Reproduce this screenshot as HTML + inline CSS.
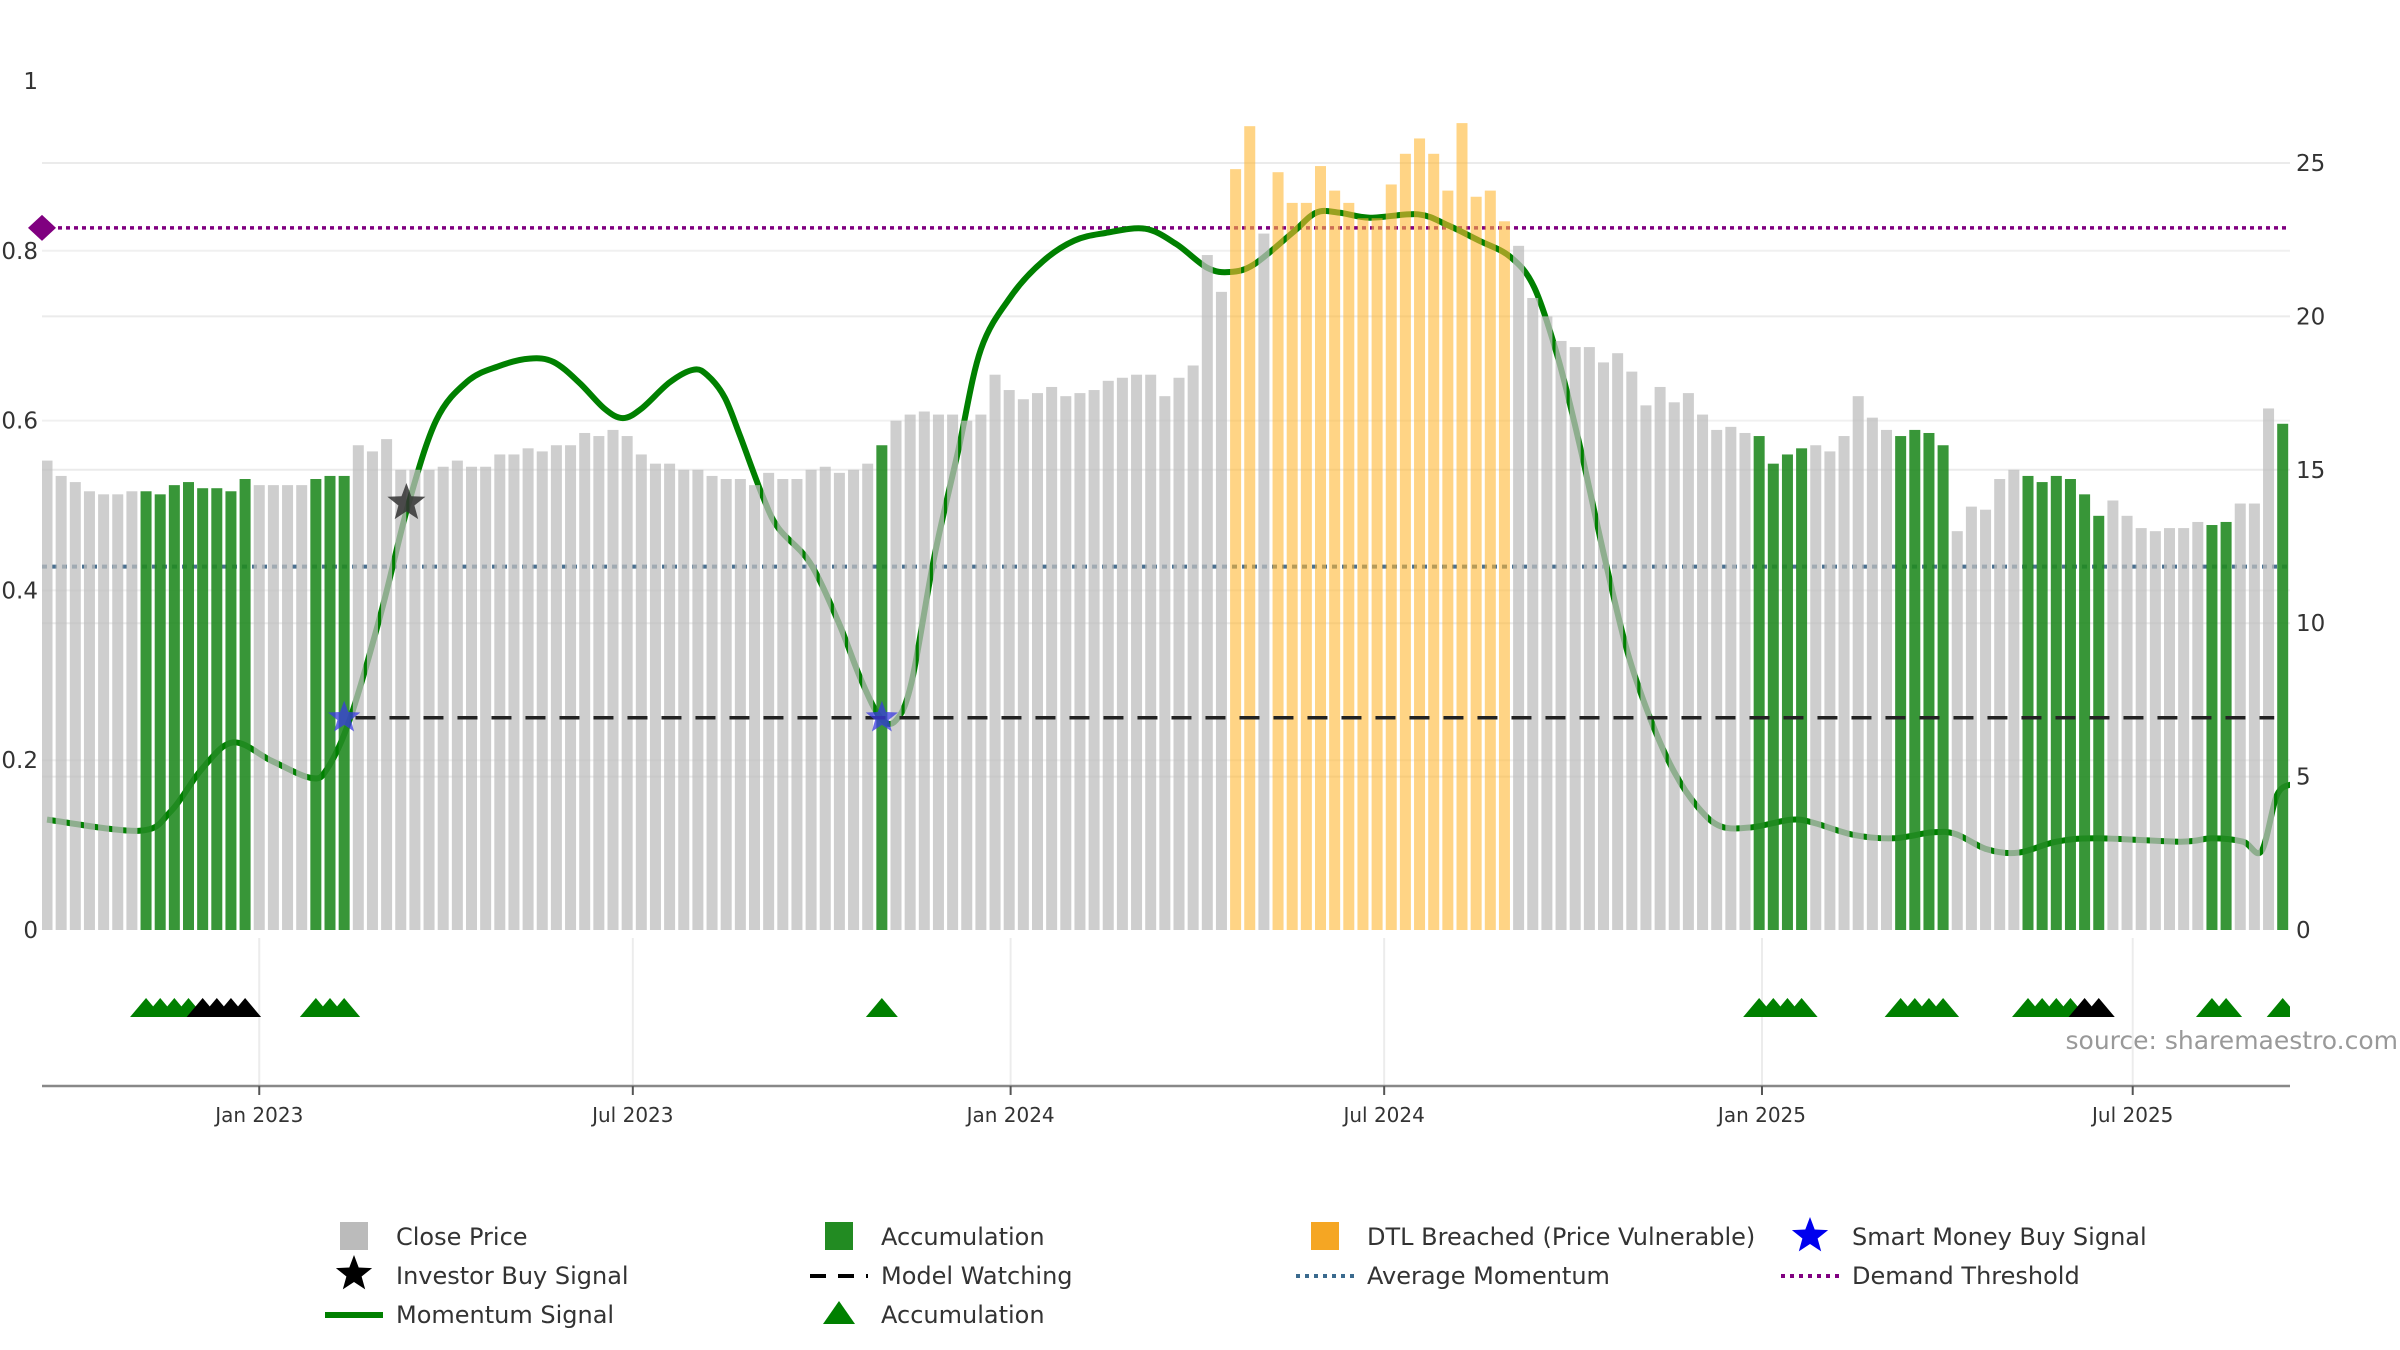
<!DOCTYPE html>
<html><head><meta charset="utf-8"><style>
html,body{margin:0;padding:0;background:#fff;}
svg{display:block;font-family:"DejaVu Sans","Liberation Sans",sans-serif;}
</style></head><body>
<svg id="chart" width="2400" height="1350" viewBox="0 0 2400 1350" xmlns="http://www.w3.org/2000/svg">
<defs><clipPath id="pc"><rect x="42" y="60" width="2248" height="1030"/></clipPath></defs>
<g id="grid"></g>
<g id="lines" clip-path="url(#pc)"></g>
<g id="mom" clip-path="url(#pc)"></g>
<g id="bars" clip-path="url(#pc)"></g>
<g id="marks" clip-path="url(#pc)"></g>
<g id="axes"></g>
<text x="2398" y="1049" text-anchor="end" font-size="25" fill="#999">source: sharemaestro.com</text>
<g id="legend" font-size="24" fill="#333">
 <g><rect x="340" y="1222" width="28" height="28" fill="#bbb"/><text x="396" y="1245">Close Price</text></g>
 <g><rect x="825" y="1222" width="28" height="28" fill="#228b22"/><text x="881" y="1245">Accumulation</text></g>
 <g><rect x="1311" y="1222" width="28" height="28" fill="#f5a623"/><text x="1367" y="1245">DTL Breached (Price Vulnerable)</text></g>
 <g><polygon id="ls1" fill="#0000ee"/><text x="1852" y="1245">Smart Money Buy Signal</text></g>
 <g><polygon id="ls2" fill="#000"/><text x="396" y="1284">Investor Buy Signal</text></g>
 <g><line x1="810" y1="1276" x2="868" y2="1276" stroke="#000" stroke-width="4" stroke-dasharray="16 12"/><text x="881" y="1284">Model Watching</text></g>
 <g><line x1="1296" y1="1276" x2="1354" y2="1276" stroke="#3a6a8e" stroke-width="4" stroke-dasharray="4 5"/><text x="1367" y="1284">Average Momentum</text></g>
 <g><line x1="1781" y1="1276" x2="1839" y2="1276" stroke="#800080" stroke-width="4" stroke-dasharray="4 5"/><text x="1852" y="1284">Demand Threshold</text></g>
 <g><line x1="325" y1="1315" x2="383" y2="1315" stroke="#008000" stroke-width="6"/><text x="396" y="1323">Momentum Signal</text></g>
 <g><polygon points="839,1301 855,1324 823,1324" fill="#008000"/><text x="881" y="1323">Accumulation</text></g>
</g>
</svg>
<script>
const closePrice=[15.3,14.8,14.6,14.3,14.2,14.2,14.3,14.3,14.2,14.5,
14.6,14.4,14.4,14.3,14.7,14.5,14.5,14.5,14.5,14.7,
14.8,14.8,15.8,15.6,16.0,15.0,15.0,15.0,15.1,15.3,
15.1,15.1,15.5,15.5,15.7,15.6,15.8,15.8,16.2,16.1,
16.3,16.1,15.5,15.2,15.2,15.0,15.0,14.8,14.7,14.7,
14.5,14.9,14.7,14.7,15.0,15.1,14.9,15.0,15.2,15.8,
16.6,16.8,16.9,16.8,16.8,16.6,16.8,18.1,17.6,17.3,
17.5,17.7,17.4,17.5,17.6,17.9,18.0,18.1,18.1,17.4,
18.0,18.4,22.0,20.8,
24.8,26.2,22.7,24.7,23.7,23.7,24.9,24.1,23.7,23.2,23.2,24.3,25.3,25.8,25.3,24.1,26.3,23.9,24.1,23.1,
22.3,20.6,20.0,19.2,19.0,19.0,18.5,18.8,18.2,17.1,17.7,17.2,17.5,16.8,16.3,16.4,16.2,
16.1,15.2,15.5,15.7,
15.8,15.6,16.1,17.4,16.7,16.3,
16.1,16.3,16.2,15.8,
13.0,13.8,13.7,14.7,15.0,
14.8,14.6,14.8,14.7,14.2,13.5,
14.0,13.5,13.1,13.0,13.1,13.1,13.3,
13.2,13.3,
13.9,13.9,17.0,
16.5];
const accumIdx=[7,8,9,10,11,12,13,14,19,20,21,59,121,122,123,124,131,132,133,134,140,141,142,143,144,145,153,154,158];
const dtlIdx=[84,85,87,88,89,90,91,92,93,94,95,96,97,98,99,100,101,102,103];
const triGreen=[7,8,9,10,19,20,21,59,121,122,123,124,131,132,133,134,140,141,142,143,153,154,158];
const triBlack=[11,12,13,14,144,145];
const momIdx=[0,6.55,8.76,10.96,13.16,15.9,18.67,19.8,21.4,23.6,25.5,27.5,29.7,31.9,34.1,35.8,37.6,39.4,40.7,42.0,44.0,45.7,46.7,47.9,49.0,50.6,51.7,53.9,55.9,57.5,58.9,60.0,61.1,62.7,64.4,66.0,68.2,70.4,72.6,74.8,77.6,79.8,82.0,83.6,85.3,88.0,89.7,91.3,93.5,96.9,99.0,101.2,103.4,105.1,106.8,108.4,110.1,111.7,113.4,115.0,116.7,118.3,120.5,123.3,124.9,127.7,130.5,133.2,134.9,137.1,139.3,142.0,144.8,150.8,153.0,155.2,156.5,157.6,158.7];
const momVal=[0.130,0.117,0.140,0.190,0.221,0.199,0.179,0.190,0.248,0.373,0.499,0.600,0.646,0.664,0.673,0.669,0.645,0.614,0.603,0.614,0.645,0.660,0.653,0.627,0.581,0.510,0.473,0.433,0.364,0.296,0.250,0.247,0.292,0.439,0.565,0.684,0.748,0.788,0.812,0.821,0.826,0.808,0.780,0.775,0.784,0.821,0.845,0.845,0.839,0.843,0.830,0.812,0.793,0.757,0.673,0.565,0.437,0.327,0.245,0.186,0.144,0.122,0.121,0.130,0.126,0.112,0.108,0.115,0.113,0.095,0.091,0.104,0.108,0.104,0.108,0.104,0.093,0.159,0.172];
const smartIdx=[21,59];
const smartVal=[0.25,0.25];
const investorIdx=[25.4];
const investorVal=[0.503];
const avgMomentum=0.428;
const demandThreshold=0.827;
const modelWatching=0.25;
const modelStart=21.8, modelEnd=157.4;
const leftTicks=[0,0.2,0.4,0.6,0.8,1];
const leftLabels=["0","0.2","0.4","0.6","0.8","1"];
const rightTicks=[0,5,10,15,20,25];
const dateIdx=[15.0,41.4,68.1,94.5,121.2,147.4];
const dateLabels=["Jan 2023","Jul 2023","Jan 2024","Jul 2024","Jan 2025","Jul 2025"];

const NS="http://www.w3.org/2000/svg";
const xB=i=>47+i*14.15;
const yR=v=>930-v*30.68;
const yL=v=>930-v*849;
function mk(tag,attrs,parent){const e=document.createElementNS(NS,tag);for(const k in attrs)e.setAttribute(k,attrs[k]);parent.appendChild(e);return e;}
function starPts(cx,cy,R){const r=R*0.42;let p=[];for(let k=0;k<10;k++){const a=-Math.PI/2+k*Math.PI/5;const rr=k%2?r:R;p.push((cx+rr*Math.cos(a)).toFixed(1)+","+(cy+rr*Math.sin(a)).toFixed(1));}return p.join(" ");}
const G=id=>document.getElementById(id);

rightTicks.forEach(t=>{if(t===0)return;const l=mk('line',{x1:42,x2:2290,y1:yR(t),y2:yR(t),stroke:'#ebebeb','stroke-width':2},G('grid'));

});
leftTicks.forEach(t=>{if(t===0||t===1)return;const l=mk('line',{x1:42,x2:2290,y1:yL(t),y2:yL(t),stroke:'#f0f0f0','stroke-width':2},G('grid'));

});
dateIdx.forEach(d=>{const l=mk('line',{x1:xB(d),x2:xB(d),y1:938,y2:1086,stroke:'#ececec','stroke-width':2},G('grid'));

});

let l1=mk('line',{x1:42,x2:2290,y1:yL(demandThreshold),y2:yL(demandThreshold),stroke:'#800080','stroke-width':3.5,'stroke-dasharray':'4 4'},G('lines'));


let l2=mk('line',{x1:42,x2:2290,y1:yL(avgMomentum),y2:yL(avgMomentum),stroke:'#4a7090','stroke-width':4,'stroke-dasharray':'5 5'},G('lines'));


let dm=mk('polygon',{points:`42,${yL(demandThreshold)-13} 56,${yL(demandThreshold)} 42,${yL(demandThreshold)+13} 28,${yL(demandThreshold)}`,fill:'#800080'},G('axes'));



const pts=momIdx.map((d,i)=>[xB(d),yL(momVal[i])]);
let dstr=`M${pts[0][0]},${pts[0][1]}`;
for(let i=0;i<pts.length-1;i++){const p0=pts[Math.max(0,i-1)],p1=pts[i],p2=pts[i+1],p3=pts[Math.min(pts.length-1,i+2)];
const c1=[p1[0]+(p2[0]-p0[0])/6,p1[1]+(p2[1]-p0[1])/6],c2=[p2[0]-(p3[0]-p1[0])/6,p2[1]-(p3[1]-p1[1])/6];
dstr+=` C${c1[0].toFixed(1)},${c1[1].toFixed(1)} ${c2[0].toFixed(1)},${c2[1].toFixed(1)} ${p2[0].toFixed(1)},${p2[1].toFixed(1)}`;}
let ml=mk('path',{d:dstr,fill:'none',stroke:'#008000','stroke-width':6,'stroke-linejoin':'round'},G('mom'));



closePrice.forEach((v,i)=>{let fill='#bdbdbd',op=0.75,nm='close-price-bar';
if(accumIdx.includes(i)){fill='#228b22';op=0.9;nm='accumulation-bar';}
else if(dtlIdx.includes(i)){fill='#ffb733';op=0.6;nm='dtl-breached-bar';}
const b=mk('rect',{x:xB(i)-5.5,y:yR(v),width:11,height:930-yR(v),fill:fill,'fill-opacity':op},G('bars'));

});

let mw=mk('line',{x1:xB(modelStart),x2:xB(modelEnd),y1:yL(modelWatching),y2:yL(modelWatching),stroke:'#222','stroke-width':3.5,'stroke-dasharray':'20 14'},G('marks'));


smartIdx.forEach((d,i)=>{const s=mk('polygon',{points:starPts(xB(d),yL(smartVal[i]),17),fill:'#3a3ae0','fill-opacity':0.75},G('marks'));

});
investorIdx.forEach((d,i)=>{const s=mk('polygon',{points:starPts(xB(d),yL(investorVal[i]),20),fill:'#333','fill-opacity':0.85},G('marks'));

});
function tri(i,col,nm){const cx=xB(i),y0=1017;const t=mk('polygon',{points:`${cx},${y0-19} ${cx+16},${y0} ${cx-16},${y0}`,fill:col},G('marks'));

}
triGreen.forEach(i=>tri(i,'#008000','accumulation-triangle'));
triBlack.forEach(i=>tri(i,'#000','investor-triangle'));

let ax=mk('line',{x1:42,x2:2290,y1:1086,y2:1086,stroke:'#888','stroke-width':2.5},G('axes'));


dateIdx.forEach((d,i)=>{const t=mk('line',{x1:xB(d),x2:xB(d),y1:1086,y2:1095,stroke:'#555','stroke-width':2},G('axes'));


const tx=mk('text',{x:xB(d),y:1122,'text-anchor':'middle','font-size':20,fill:'#333'},G('axes'));tx.textContent=dateLabels[i];

});
leftTicks.forEach((t,i)=>{const tx=mk('text',{x:38,y:yL(t)+8,'text-anchor':'end','font-size':23,fill:'#333'},G('axes'));tx.textContent=leftLabels[i];

});
rightTicks.forEach(t=>{const tx=mk('text',{x:2296,y:yR(t)+8,'font-size':23,fill:'#333'},G('axes'));tx.textContent=String(t);

});
G('ls1').setAttribute('points',starPts(1810,1236,19));
G('ls2').setAttribute('points',starPts(354,1274,19));
</script>
</body></html>
